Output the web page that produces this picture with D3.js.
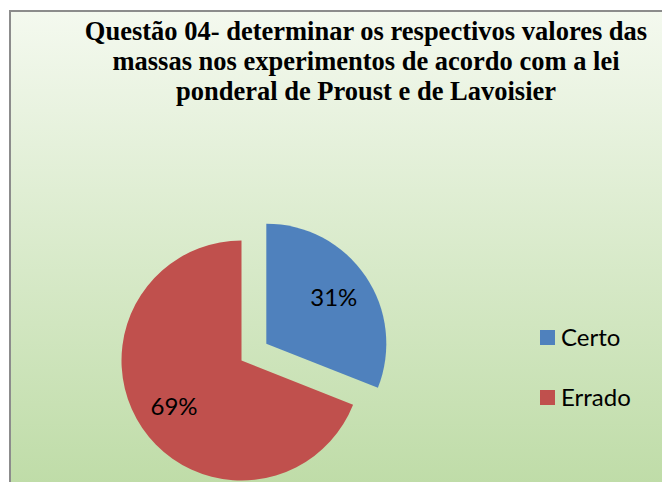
<!DOCTYPE html>
<html>
<head>
<meta charset="utf-8">
<script src="https://cdn.jsdelivr.net/npm/d3@7"></script>
<style>
  html, body { margin: 0; padding: 0; background: #fff; }
  svg { display: block; }
  .title { font-family: "Liberation Serif", "Times New Roman", serif; font-weight: bold; }
</style>
</head>
<body>
<svg width="662" height="482"></svg>
<script>
const categories = ["Certo", "Errado"];
const values = [31, 69];
const labels = ["31%", "69%"];
const colors = ["#4f81bd", "#c0504d"];
const titleLines = [
  "Questão 04- determinar os respectivos valores das",
  "massas nos experimentos de acordo com a lei",
  "ponderal de Proust e de Lavoisier",
];

const width = 662;
const height = 482;
const svg = d3.select("svg");

// background gradient, light at top, green at bottom
const defs = svg.append("defs");
const grad = defs
  .append("linearGradient")
  .attr("id", "bg")
  .attr("x1", 0).attr("y1", 0)
  .attr("x2", 0).attr("y2", 1);
grad.append("stop").attr("offset", "0%").attr("stop-color", "#f4f9ef");
grad.append("stop").attr("offset", "100%").attr("stop-color", "#bddba5");

svg
  .append("rect")
  .attr("x", 10)
  .attr("y", 11)
  .attr("width", width + 10)
  .attr("height", height + 10)
  .attr("fill", "url(#bg)")
  .attr("stroke", "#8c8c8c")
  .attr("stroke-width", 2);

// title
const title = svg
  .append("text")
  .attr("class", "title")
  .attr("text-anchor", "middle")
  .attr("font-size", 26.5)
  .attr("fill", "#000");
titleLines.forEach((line, i) => {
  title
    .append("tspan")
    .attr("x", 366)
    .attr("y", 40 + i * 30)
    .text(line);
});

// pie
const cx = 241.5;
const cy = 360.5;
const radius = 120;
const explode = 30;

const pie = d3.pie().sort(null).value((d) => d);
const arc = d3.arc().innerRadius(0).outerRadius(radius);
const arcs = pie(values);

const chart = svg.append("g").attr("transform", `translate(${cx}, ${cy})`);

const slices = chart
  .selectAll("g.slice")
  .data(arcs)
  .enter()
  .append("g")
  .attr("class", "slice")
  .attr("transform", (d, i) => {
    if (i !== 0) return null;
    const mid = (d.startAngle + d.endAngle) / 2;
    return `translate(${Math.sin(mid) * explode}, ${-Math.cos(mid) * explode})`;
  });

slices
  .append("path")
  .attr("d", arc)
  .attr("fill", (d, i) => colors[i]);

const labelArc = d3.arc().innerRadius(radius * 0.68).outerRadius(radius * 0.68);
slices
  .append("text")
  .attr("transform", (d) => `translate(${labelArc.centroid(d)})`)
  .attr("text-anchor", "middle")
  .attr("dy", "0.35em")
  .attr("font-family", "Lato, 'Open Sans', sans-serif")
  .attr("font-size", 24)
  .attr("fill", "#000")
  .text((d, i) => labels[i]);

// legend
const legend = svg
  .append("g")
  .selectAll("g")
  .data(categories)
  .enter()
  .append("g")
  .attr("transform", (d, i) => `translate(540, ${330 + i * 60})`);

legend
  .append("rect")
  .attr("width", 15)
  .attr("height", 15)
  .attr("fill", (d, i) => colors[i]);

legend
  .append("text")
  .attr("x", 21)
  .attr("y", 7.5)
  .attr("dy", "0.35em")
  .attr("font-family", "Lato, 'Open Sans', sans-serif")
  .attr("font-size", 24)
  .attr("fill", "#000")
  .text((d) => d);
</script>
</body>
</html>
